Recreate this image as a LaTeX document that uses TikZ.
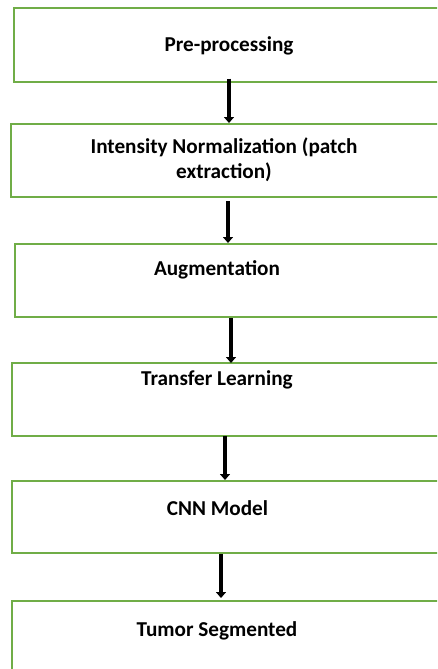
\documentclass[tikz,border=0pt]{standalone}
\usepackage{fontspec}
\setmainfont{Carlito}
\usetikzlibrary{arrows.meta}
\definecolor{boxgreen}{RGB}{112,173,71}
\tikzset{
  flowbox/.style={draw=boxgreen, line width=2pt, rectangle, inner sep=0pt, anchor=north west},
  lbl/.style={font=\fontsize{21.2}{25}\selectfont\bfseries, anchor=base, inner sep=0pt, align=center},
  arr/.style={draw=black, line width=3.5pt, -{Triangle[width=10pt,length=6pt]}}
}
\begin{document}
\begin{tikzpicture}[x=1pt,y=-1pt]
\useasboundingbox (0,0) rectangle (437,669);
\begin{scope}
\clip (0,0) rectangle (437,669);
\node[flowbox, minimum width=447pt, minimum height=73pt] (b1) at (13,7.5) {};
\node[flowbox, minimum width=450pt, minimum height=72.5pt] (b2) at (10,123) {};
\node[flowbox, minimum width=446pt, minimum height=73pt] (b3) at (14,243) {};
\node[flowbox, minimum width=449pt, minimum height=73pt] (b4) at (11,362) {};
\node[flowbox, minimum width=449pt, minimum height=72pt] (b5) at (11,480) {};
\node[flowbox, minimum width=449pt, minimum height=73pt] (b6) at (11,600) {};
\end{scope}
\node[lbl] (t1) at (229,51.5) {Pre-processing};
\node[lbl] (t2a) at (224,153) {Intensity Normalization (patch};
\node[lbl] (t2b) at (224,178) {extraction)};
\node[lbl] (t3) at (217,275) {Augmentation};
\node[lbl] (t4) at (217,385) {Transfer Learning};
\node[lbl] (t5) at (217.5,515) {CNN Model};
\node[lbl] (t6) at (217,636.5) {Tumor Segmented};
\draw[arr] ([xshift=-8.5pt,yshift=4pt]b1.south) -- ([xshift=-7pt]b2.north);
\draw[arr] ([xshift=-8pt,yshift=-3.5pt]b2.south) -- ([xshift=-10pt]b3.north);
\draw[arr] ([xshift=-7pt]b3.south) -- ([xshift=-5.5pt,yshift=-1pt]b4.north);
\draw[arr] ([xshift=-11.5pt,yshift=1pt]b4.south) -- ([xshift=-11.5pt]b5.north);
\draw[arr] ([xshift=-15.5pt]b5.south) -- ([xshift=-15.5pt,yshift=2pt]b6.north);
\end{tikzpicture}
\end{document}
